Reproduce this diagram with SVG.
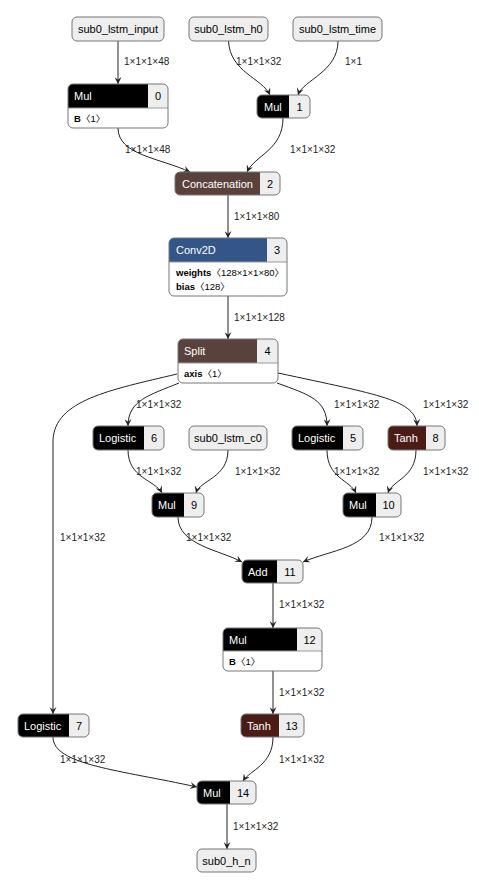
<svg xmlns="http://www.w3.org/2000/svg" width="479" height="889" viewBox="0 0 479 889">
<style>
text { font-family: "Liberation Sans", "Noto Sans CJK SC", sans-serif; }
.bg { fill: #fff; }
.inp { fill: #eee; stroke: #777; stroke-width: 1; }
.inptxt { font-size: 11px; fill: #000; text-anchor: middle; }
.idx { fill: #eee; }
.border { fill: none; stroke: #777; stroke-width: 1; }
.sep { stroke: #999; stroke-width: 1; }
.title { font-size: 11px; fill: #fff; }
.index { font-size: 11px; fill: #000; text-anchor: middle; }
.attr { font-size: 9.5px; fill: #000; }
.ak { font-weight: bold; }
.black { fill: #000; }
.tensor { fill: #59423b; }
.layer { fill: #335588; }
.act { fill: #4b1b16; }
.edge { fill: none; stroke: #222; stroke-width: 1; marker-end: url(#arrow); }
.lbl { font-size: 10px; fill: #222; }
</style>
<defs>
<marker id="arrow" viewBox="0 0 10 10" refX="10" refY="5" markerWidth="7" markerHeight="7" markerUnits="userSpaceOnUse" orient="auto">
<path d="M0,0 L10,5 L0,10 L4,5 z" fill="#222"/>
</marker>
</defs>
<rect x="0" y="0" width="479" height="889" fill="#fff"/>

<g id="edges">
<path class="edge" d="M118,41 V84"/>
<path class="edge" d="M228.5,41 C230,72 262,78 270,95"/>
<path class="edge" d="M338,41 C338,72 303,80 298,95"/>
<path class="edge" d="M118,128 C118,155 160,158 190,172"/>
<path class="edge" d="M283,118 C283,150 255,155 247,172"/>
<path class="edge" d="M228,195 V238"/>
<path class="edge" d="M228,296 V339"/>
<path class="edge" d="M177,374 C110,390 55,400 53,440 V714"/>
<path class="edge" d="M179,383 C150,395 128,400 128,426"/>
<path class="edge" d="M277,383 C310,395 327,400 327,426"/>
<path class="edge" d="M278,373 C380,395 416,400 417,426"/>
<path class="edge" d="M128,450 C128,478 155,480 162,493"/>
<path class="edge" d="M228,450 C228,478 200,480 196,493"/>
<path class="edge" d="M327,450 C327,478 350,480 356,493"/>
<path class="edge" d="M416,450 C416,478 392,480 388,493"/>
<path class="edge" d="M178,517 C178,545 220,550 242,562"/>
<path class="edge" d="M372,517 C372,548 330,550 303,562"/>
<path class="edge" d="M273,583 V628"/>
<path class="edge" d="M273,671 V714"/>
<path class="edge" d="M53,737 C53,765 120,770 197,787"/>
<path class="edge" d="M273,737 C273,765 250,770 243,781"/>
<path class="edge" d="M227,804 V849"/>
<text class="lbl" x="124" y="65">1×1×1×48</text>
<text class="lbl" x="236" y="65">1×1×1×32</text>
<text class="lbl" x="345" y="65">1×1</text>
<text class="lbl" x="125" y="153">1×1×1×48</text>
<text class="lbl" x="290" y="153">1×1×1×32</text>
<text class="lbl" x="234" y="220">1×1×1×80</text>
<text class="lbl" x="234" y="321">1×1×1×128</text>
<text class="lbl" x="136" y="408">1×1×1×32</text>
<text class="lbl" x="334" y="408">1×1×1×32</text>
<text class="lbl" x="423" y="408">1×1×1×32</text>
<text class="lbl" x="136" y="475">1×1×1×32</text>
<text class="lbl" x="235" y="475">1×1×1×32</text>
<text class="lbl" x="334" y="475">1×1×1×32</text>
<text class="lbl" x="423" y="475">1×1×1×32</text>
<text class="lbl" x="60" y="541">1×1×1×32</text>
<text class="lbl" x="186" y="541">1×1×1×32</text>
<text class="lbl" x="379" y="541">1×1×1×32</text>
<text class="lbl" x="279" y="608">1×1×1×32</text>
<text class="lbl" x="279" y="696">1×1×1×32</text>
<text class="lbl" x="60" y="763">1×1×1×32</text>
<text class="lbl" x="279" y="763">1×1×1×32</text>
<text class="lbl" x="233" y="830">1×1×1×32</text>
</g>

<g id="sub0_lstm_input">
<rect class="inp" x="72" y="17" width="92" height="24" rx="5"/>
<text class="inptxt" x="118" y="33">sub0_lstm_input</text>
</g>
<g id="sub0_lstm_h0">
<rect class="inp" x="189" y="17" width="79" height="24" rx="5"/>
<text class="inptxt" x="228.5" y="33">sub0_lstm_h0</text>
</g>
<g id="sub0_lstm_time">
<rect class="inp" x="293" y="17" width="89" height="24" rx="5"/>
<text class="inptxt" x="337.5" y="33">sub0_lstm_time</text>
</g>

<g id="node-0">
<rect class="bg" x="68" y="84" width="100" height="44" rx="5"/>
<path class="black" d="M73,84 H148 V108 H68 V89 A5,5 0 0 1 73,84 Z"/>
<path class="idx" d="M148,84 H163 A5,5 0 0 1 168,89 V108 H148 Z"/>
<line class="sep" x1="68" y1="108" x2="168" y2="108"/>
<rect class="border" x="68" y="84" width="100" height="44" rx="5"/>
<text class="title" x="74" y="100">Mul</text>
<text class="index" x="158" y="100">0</text>
<text class="attr" x="74" y="122"><tspan class="ak">B</tspan><tspan>〈1〉</tspan></text>
</g>

<g id="node-1">
<path class="black" d="M262,95 H289 V118 H262 A5,5 0 0 1 257,113 V100 A5,5 0 0 1 262,95 Z"/>
<path class="idx" d="M289,95 H305 A5,5 0 0 1 310,100 V113 A5,5 0 0 1 305,118 H289 Z"/>
<rect class="border" x="257" y="95" width="53" height="23" rx="5"/>
<text class="title" x="264" y="111">Mul</text>
<text class="index" x="299.5" y="111">1</text>
</g>

<g id="node-2">
<path class="tensor" d="M180,172 H260 V195 H180 A5,5 0 0 1 175,190 V177 A5,5 0 0 1 180,172 Z"/>
<path class="idx" d="M260,172 H275 A5,5 0 0 1 280,177 V190 A5,5 0 0 1 275,195 H260 Z"/>
<rect class="border" x="175" y="172" width="105" height="23" rx="5"/>
<text class="title" x="182" y="188">Concatenation</text>
<text class="index" x="270" y="188">2</text>
</g>

<g id="node-3">
<rect class="bg" x="169" y="238" width="118" height="58" rx="5"/>
<path class="layer" d="M174,238 H267 V262 H169 V243 A5,5 0 0 1 174,238 Z"/>
<path class="idx" d="M267,238 H282 A5,5 0 0 1 287,243 V262 H267 Z"/>
<line class="sep" x1="169" y1="262" x2="287" y2="262"/>
<rect class="border" x="169" y="238" width="118" height="58" rx="5"/>
<text class="title" x="176" y="254">Conv2D</text>
<text class="index" x="277" y="254">3</text>
<text class="attr" x="176" y="276"><tspan class="ak">weights</tspan><tspan>〈128×1×1×80〉</tspan></text>
<text class="attr" x="176" y="290"><tspan class="ak">bias</tspan><tspan>〈128〉</tspan></text>
</g>

<g id="node-4">
<rect class="bg" x="178" y="339" width="100" height="44" rx="5"/>
<path class="tensor" d="M183,339 H257 V363 H178 V344 A5,5 0 0 1 183,339 Z"/>
<path class="idx" d="M257,339 H273 A5,5 0 0 1 278,344 V363 H257 Z"/>
<line class="sep" x1="178" y1="363" x2="278" y2="363"/>
<rect class="border" x="178" y="339" width="100" height="44" rx="5"/>
<text class="title" x="184" y="355">Split</text>
<text class="index" x="267.5" y="355">4</text>
<text class="attr" x="184" y="377"><tspan class="ak">axis</tspan><tspan>〈1〉</tspan></text>
</g>

<g id="node-6">
<path class="black" d="M98,426 H144 V450 H98 A5,5 0 0 1 93,445 V431 A5,5 0 0 1 98,426 Z"/>
<path class="idx" d="M144,426 H159 A5,5 0 0 1 164,431 V445 A5,5 0 0 1 159,450 H144 Z"/>
<rect class="border" x="93" y="426" width="71" height="24" rx="5"/>
<text class="title" x="99" y="442">Logistic</text>
<text class="index" x="154" y="442">6</text>
</g>

<g id="sub0_lstm_c0">
<rect class="inp" x="189" y="426" width="78" height="24" rx="5"/>
<text class="inptxt" x="228" y="442">sub0_lstm_c0</text>
</g>

<g id="node-5">
<path class="black" d="M297,426 H343 V450 H297 A5,5 0 0 1 292,445 V431 A5,5 0 0 1 297,426 Z"/>
<path class="idx" d="M343,426 H358 A5,5 0 0 1 363,431 V445 A5,5 0 0 1 358,450 H343 Z"/>
<rect class="border" x="292" y="426" width="71" height="24" rx="5"/>
<text class="title" x="298" y="442">Logistic</text>
<text class="index" x="353" y="442">5</text>
</g>

<g id="node-8">
<path class="act" d="M393,426 H426 V450 H393 A5,5 0 0 1 388,445 V431 A5,5 0 0 1 393,426 Z"/>
<path class="idx" d="M426,426 H440 A5,5 0 0 1 445,431 V445 A5,5 0 0 1 440,450 H426 Z"/>
<rect class="border" x="388" y="426" width="57" height="24" rx="5"/>
<text class="title" x="394" y="442">Tanh</text>
<text class="index" x="435.5" y="442">8</text>
</g>

<g id="node-9">
<path class="black" d="M157,493 H184 V517 H157 A5,5 0 0 1 152,512 V498 A5,5 0 0 1 157,493 Z"/>
<path class="idx" d="M184,493 H199 A5,5 0 0 1 204,498 V512 A5,5 0 0 1 199,517 H184 Z"/>
<rect class="border" x="152" y="493" width="52" height="24" rx="5"/>
<text class="title" x="158" y="509">Mul</text>
<text class="index" x="194" y="509">9</text>
</g>

<g id="node-10">
<path class="black" d="M348,493 H376 V517 H348 A5,5 0 0 1 343,512 V498 A5,5 0 0 1 348,493 Z"/>
<path class="idx" d="M376,493 H396 A5,5 0 0 1 401,498 V512 A5,5 0 0 1 396,517 H376 Z"/>
<rect class="border" x="343" y="493" width="58" height="24" rx="5"/>
<text class="title" x="349" y="509">Mul</text>
<text class="index" x="388.5" y="509">10</text>
</g>

<g id="node-11">
<path class="black" d="M247,560 H277 V583 H247 A5,5 0 0 1 242,578 V565 A5,5 0 0 1 247,560 Z"/>
<path class="idx" d="M277,560 H298 A5,5 0 0 1 303,565 V578 A5,5 0 0 1 298,583 H277 Z"/>
<rect class="border" x="242" y="560" width="61" height="23" rx="5"/>
<text class="title" x="248" y="576">Add</text>
<text class="index" x="290" y="576">11</text>
</g>

<g id="node-12">
<rect class="bg" x="223" y="628" width="99" height="43" rx="5"/>
<path class="black" d="M228,628 H297 V651 H223 V633 A5,5 0 0 1 228,628 Z"/>
<path class="idx" d="M297,628 H317 A5,5 0 0 1 322,633 V651 H297 Z"/>
<line class="sep" x1="223" y1="651" x2="322" y2="651"/>
<rect class="border" x="223" y="628" width="99" height="43" rx="5"/>
<text class="title" x="229" y="644">Mul</text>
<text class="index" x="309.5" y="644">12</text>
<text class="attr" x="229" y="665"><tspan class="ak">B</tspan><tspan>〈1〉</tspan></text>
</g>

<g id="node-13">
<path class="act" d="M246,714 H279 V737 H246 A5,5 0 0 1 241,732 V719 A5,5 0 0 1 246,714 Z"/>
<path class="idx" d="M279,714 H299 A5,5 0 0 1 304,719 V732 A5,5 0 0 1 299,737 H279 Z"/>
<rect class="border" x="241" y="714" width="63" height="23" rx="5"/>
<text class="title" x="247" y="730">Tanh</text>
<text class="index" x="291.5" y="730">13</text>
</g>

<g id="node-7">
<path class="black" d="M23,714 H69 V737 H23 A5,5 0 0 1 18,732 V719 A5,5 0 0 1 23,714 Z"/>
<path class="idx" d="M69,714 H84 A5,5 0 0 1 89,719 V732 A5,5 0 0 1 84,737 H69 Z"/>
<rect class="border" x="18" y="714" width="71" height="23" rx="5"/>
<text class="title" x="24" y="730">Logistic</text>
<text class="index" x="79" y="730">7</text>
</g>

<g id="node-14">
<path class="black" d="M202,781 H230 V804 H202 A5,5 0 0 1 197,799 V786 A5,5 0 0 1 202,781 Z"/>
<path class="idx" d="M230,781 H251 A5,5 0 0 1 256,786 V799 A5,5 0 0 1 251,804 H230 Z"/>
<rect class="border" x="197" y="781" width="59" height="23" rx="5"/>
<text class="title" x="203" y="797">Mul</text>
<text class="index" x="243" y="797">14</text>
</g>

<g id="sub0_h_n">
<rect class="inp" x="197" y="849" width="59" height="23" rx="5"/>
<text class="inptxt" x="226.5" y="865">sub0_h_n</text>
</g>
</svg>
